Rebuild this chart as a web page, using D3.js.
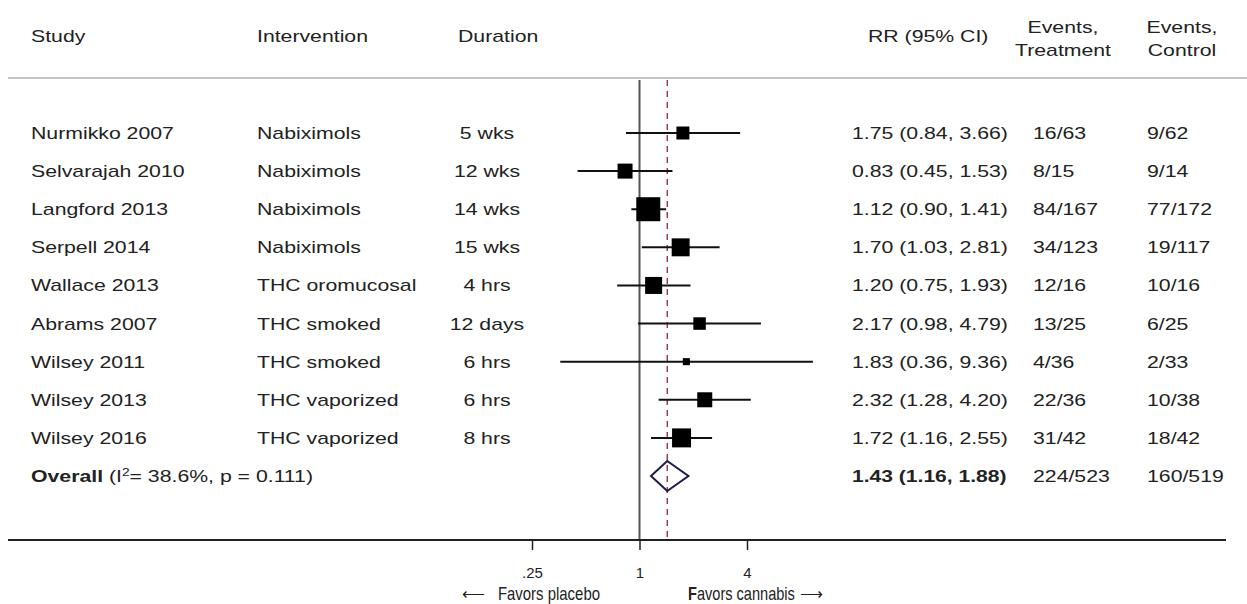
<!DOCTYPE html>
<html><head><meta charset="utf-8">
<script src="https://cdn.jsdelivr.net/npm/d3@7"></script>
<style>
html,body{margin:0;padding:0;background:#fff;}
svg{display:block;font-family:"Liberation Sans",Arial,sans-serif;}
</style></head>
<body><svg id="c" width="1247" height="604"></svg>
<script>
const studies = ["Nurmikko 2007","Selvarajah 2010","Langford 2013","Serpell 2014","Wallace 2013","Abrams 2007","Wilsey 2011","Wilsey 2013","Wilsey 2016"];
const interventions = ["Nabiximols","Nabiximols","Nabiximols","Nabiximols","THC oromucosal","THC smoked","THC smoked","THC vaporized","THC vaporized"];
const durations = ["5 wks","12 wks","14 wks","15 wks","4 hrs","12 days","6 hrs","6 hrs","8 hrs"];
const rr = [1.75,0.83,1.12,1.70,1.20,2.17,1.83,2.32,1.72];
const lo = [0.84,0.45,0.90,1.03,0.75,0.98,0.36,1.28,1.16];
const hi = [3.66,1.53,1.41,2.81,1.93,4.79,9.36,4.20,2.55];
const weights = [7.1,9.5,24.3,13.6,12.2,6.6,2.1,9.5,15.2];
const eventsT = ["16/63","8/15","84/167","34/123","12/16","13/25","4/36","22/36","31/42"];
const eventsC = ["9/62","9/14","77/172","19/117","10/16","6/25","2/33","10/38","18/42"];
const overallRR = [1.43, 1.16, 1.88];
const overallT = "224/523", overallC = "160/519";
const overallLabel = "Overall", i2Text = "38.6%", pText = "0.111";
const tickVals = [0.25, 1, 4];
const tickLabels = [".25","1","4"];

const svg = d3.select("#c");
const x = d3.scaleLog().domain([0.25, 4]).range([532, 747]);
const nRows = studies.length + 1;
const y = d3.scaleLinear().domain([0, nRows - 1]).range([133, 476]);
const sz = d3.scaleSqrt().domain([0, d3.max(weights)]).range([0, 24]);
const txt = "#222";
const fmt = v => v.toFixed(2);
const SX = 1.25, FS = 17;

// stretched text helper
function T(parent, px, py, s, opts = {}) {
  const t = parent.append("text")
    .attr("transform", `translate(${px},${py}) scale(${opts.sx || SX},1)`)
    .attr("font-size", opts.fs || FS).attr("fill", txt);
  if (opts.anchor) t.attr("text-anchor", opts.anchor);
  if (opts.bold) t.attr("font-weight", "bold");
  if (s !== null) t.text(s);
  return t;
}

// header
const hdr = svg.append("g");
T(hdr, 31, 42, "Study");
T(hdr, 257, 42, "Intervention");
T(hdr, 458, 42, "Duration");
T(hdr, 868, 42, "RR (95% CI)");
T(hdr, 1063, 33, "Events,", {anchor: "middle"});
T(hdr, 1063, 56, "Treatment", {anchor: "middle"});
T(hdr, 1182, 33, "Events,", {anchor: "middle"});
T(hdr, 1182, 56, "Control", {anchor: "middle"});
svg.append("line").attr("x1", 8).attr("x2", 1247).attr("y1", 78).attr("y2", 78)
  .attr("stroke", "#c4c4c4").attr("stroke-width", 2);

// reference lines
svg.append("line").attr("x1", x(1)).attr("x2", x(1)).attr("y1", 80).attr("y2", 540)
  .attr("stroke", "#555").attr("stroke-width", 2);
svg.append("line").attr("x1", x(overallRR[0])).attr("x2", x(overallRR[0])).attr("y1", 80).attr("y2", 540)
  .attr("stroke", "#8a2438").attr("stroke-width", 1.3).attr("stroke-dasharray", "6,5");

// rows
const rows = svg.append("g");
studies.forEach((s, i) => {
  const yy = y(i) + 6;
  T(rows, 31, yy, s);
  T(rows, 257, yy, interventions[i]);
  T(rows, 487, yy, durations[i], {anchor: "middle"});
  T(rows, 852, yy, `${fmt(rr[i])} (${fmt(lo[i])}, ${fmt(hi[i])})`);
  T(rows, 1033, yy, eventsT[i]);
  T(rows, 1147, yy, eventsC[i]);
});

// CI lines and squares
const idx = d3.range(studies.length);
const marks = svg.append("g");
marks.selectAll("line.ci").data(idx).join("line").attr("class","ci")
  .attr("x1", i => x(lo[i])).attr("x2", i => x(hi[i]))
  .attr("y1", i => y(i)).attr("y2", i => y(i))
  .attr("stroke", "#111").attr("stroke-width", 2);
marks.selectAll("rect").data(idx).join("rect")
  .attr("x", i => x(rr[i]) - sz(weights[i]) / 2).attr("y", i => y(i) - sz(weights[i]) / 2)
  .attr("width", i => sz(weights[i])).attr("height", i => sz(weights[i]))
  .attr("fill", "#000");

// overall
const oy = y(nRows - 1);
const ot = T(rows, 31, oy + 6, null);
ot.append("tspan").attr("font-weight", "bold").text(overallLabel);
ot.append("tspan").text(" (I");
ot.append("tspan").attr("font-size", 11).attr("dy", -6).text("2");
ot.append("tspan").attr("dy", 6).text(`= ${i2Text}, p = ${pText})`);
T(rows, 852, oy + 6, `${fmt(overallRR[0])} (${fmt(overallRR[1])}, ${fmt(overallRR[2])})`, {bold: true, sx: 1.24});
T(rows, 1033, oy + 6, overallT);
T(rows, 1147, oy + 6, overallC);
svg.append("path")
  .attr("d", `M${x(overallRR[1])},${oy} L${x(overallRR[0])},${oy - 15} L${x(overallRR[2])},${oy} L${x(overallRR[0])},${oy + 15} Z`)
  .attr("fill", "none").attr("stroke", "#1c1c4a").attr("stroke-width", 2);

// axis
svg.append("line").attr("x1", 8).attr("x2", 1226).attr("y1", 540).attr("y2", 540)
  .attr("stroke", "#222").attr("stroke-width", 2);
const ax = svg.append("g").attr("transform", "translate(0,540)")
  .call(d3.axisBottom(x).tickValues(tickVals).tickFormat((d, i) => tickLabels[i]).tickSize(10).tickPadding(17));
ax.select(".domain").remove();
ax.selectAll(".tick line").attr("stroke", "#222").attr("stroke-width", 1.5);
ax.selectAll(".tick text").attr("fill", txt).attr("font-size", 15).attr("font-family", "Liberation Sans, Arial, sans-serif");

// direction labels
T(svg, 462, 599, "\u27F5", {fs: 16, sx: 1.0});
T(svg, 600, 600, "Favors placebo", {anchor: "end", fs: 18, sx: 0.83});
const fc = T(svg, 688, 600, null, {fs: 18, sx: 0.81});
fc.append("tspan").attr("font-weight", "bold").text("F");
fc.append("tspan").text("avors cannabis");
T(svg, 823, 599, "\u27F6", {anchor: "end", fs: 16, sx: 1.0});
</script></body></html>
